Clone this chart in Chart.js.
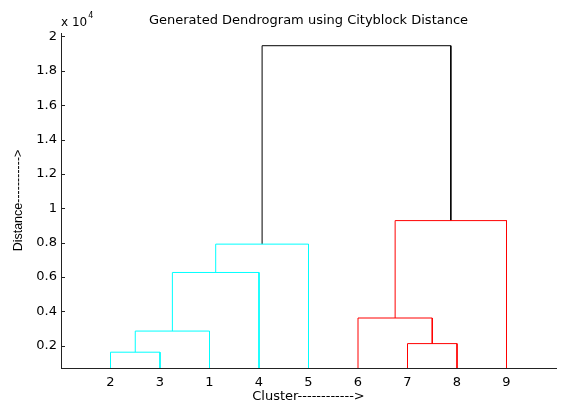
<!DOCTYPE html>
<html>
<head>
<meta charset="utf-8">
<title>Dendrogram</title>
<script src="https://cdn.jsdelivr.net/npm/chart.js@4.4.1/dist/chart.umd.min.js"></script>
<style>
  html, body { margin: 0; padding: 0; background: #fff; }
  #wrap { width: 565px; height: 403px; position: relative; }
</style>
</head>
<body>
<div id="wrap"><canvas id="dendro"></canvas></div>
<script>
// linkage rows: [left node, right node, distance (x 10^4)]
// nodes 1..9 are the observations, 10+ are the clusters made by each row
var linkLeft   = [2, 7, 10, 6, 12, 14, 13, 15];
var linkRight  = [3, 8, 1, 11, 4, 5, 9, 16];
var linkHeight = [0.162, 0.212, 0.285, 0.361, 0.626, 0.791, 0.928, 1.946];

// leaf order along the x axis
var leafOrder = [2, 3, 1, 4, 5, 6, 7, 8, 9];

var yTicks = [0.2, 0.4, 0.6, 0.8, 1, 1.2, 1.4, 1.6, 1.8, 2];
var xTicks = [1, 2, 3, 4, 5, 6, 7, 8, 9];

var chartTitle = 'Generated Dendrogram using Cityblock Distance';

var clusterColors = ['#00ffff', '#ff0000'];
var FONT = "'DejaVu Sans', Verdana, sans-serif";
var FONT_V = "'Liberation Sans', Arial, Helvetica, sans-serif";

var nLeaf = leafOrder.length;

// x position and height of every node
function nodePos(){
    var pos = {};
    var h = {};
    leafOrder.forEach(function(leaf, i){
        pos[leaf] = i + 1;
        h[leaf] = 0;
    });
    for (var i = 0; i < linkLeft.length; i++) {
        var id = nLeaf + 1 + i;
        pos[id] = (pos[linkLeft[i]] + pos[linkRight[i]]) / 2;
        h[id] = linkHeight[i];
    }
    return {pos: pos, h: h};
}

// colour links below 0.7*max by cluster (left to right), the rest black
function linkColours(){
    var thr = 0.7 * Math.max.apply(null, linkHeight);
    var col = [];
    var next = 0;

    function walk(id, c){
        if (id <= nLeaf) return;
        var i = id - nLeaf - 1;
        if (!c && linkHeight[i] < thr) {
            c = clusterColors[next % clusterColors.length];
            next++;
        }
        col[i] = c || '#000000';
        walk(linkLeft[i], c);
        walk(linkRight[i], c);
    }
    walk(nLeaf + linkLeft.length, null);
    return col;
}

function buildDatasets(){
    var np = nodePos();
    var cols = linkColours();
    var sets = [];
    for (var i = 0; i < linkLeft.length; i++) {
        var a = linkLeft[i], b = linkRight[i];
        sets.push({
            data: [
                {x: np.pos[a], y: np.h[a]},
                {x: np.pos[a], y: linkHeight[i]},
                {x: np.pos[b], y: linkHeight[i]},
                {x: np.pos[b], y: np.h[b]}
            ],
            showLine: true,
            borderColor: cols[i],
            borderWidth: 1,
            pointRadius: 0,
            fill: false,
            tension: 0
        });
    }
    return sets;
}

// title over the axes, small inward ticks and the exponent label, MATLAB style
var axisExtras = {
    id: 'axisExtras',
    afterDraw: function(chart){
        var ctx = chart.ctx;
        var ys = chart.scales.y;
        var area = chart.chartArea;
        ctx.save();
        ctx.strokeStyle = '#222';
        ctx.lineWidth = 1;
        ctx.beginPath();
        yTicks.forEach(function(v){
            var py = Math.round(ys.getPixelForValue(v)) + 0.5;
            ctx.moveTo(area.left, py);
            ctx.lineTo(area.left + 4, py);
        });
        ctx.stroke();

        ctx.fillStyle = '#000';
        ctx.textBaseline = 'alphabetic';
        ctx.textAlign = 'center';
        ctx.font = '13px ' + FONT;
        ctx.fillText(chartTitle, (area.left + area.right) / 2, 23.5);

        ctx.textAlign = 'left';
        ctx.font = '12px ' + FONT;
        ctx.fillText('x 10', area.left, 26);
        var w = ctx.measureText('x 10').width;
        ctx.font = '8px ' + FONT;
        ctx.fillText('4', area.left + w + 1, 18);
        ctx.restore();
    }
};

function init(){
    var ctx = document.getElementById('dendro').getContext('2d');
    var chart = new Chart(ctx, {
        type: 'scatter',
        data: { datasets: buildDatasets() },
        options: {
            responsive: true,
            maintainAspectRatio: false,
            animation: false,
            layout: { padding: { left: 0, right: 9, top: 33, bottom: 0 } },
            plugins: {
                legend: { display: false },
                tooltip: { enabled: false },
                title: { display: false }
            },
            scales: {
                x: {
                    type: 'linear',
                    min: 0,
                    max: 10,
                    afterFit: function(scale){ scale.height = 35; },
                    afterBuildTicks: function(scale){
                        scale.ticks = xTicks.map(function(v){ return {value: v}; });
                    },
                    grid: { display: false, drawTicks: false },
                    border: { display: true, color: '#222', width: 1 },
                    ticks: {
                        color: '#000',
                        padding: 7,
                        autoSkip: false,
                        maxRotation: 0,
                        font: { family: FONT, size: 13 },
                        callback: function(v){ return String(leafOrder[v - 1]); }
                    },
                    title: {
                        display: true,
                        text: 'Cluster------------>',
                        color: '#000',
                        font: { family: FONT, size: 13, lineHeight: 1.0 },
                        padding: { top: 0, bottom: 0 }
                    }
                },
                y: {
                    type: 'linear',
                    min: 0.07,
                    max: 2.02,
                    afterFit: function(scale){ scale.width = 61; },
                    afterBuildTicks: function(scale){
                        scale.ticks = yTicks.map(function(v){ return {value: v}; });
                    },
                    grid: { display: false, drawTicks: false },
                    border: { display: true, color: '#222', width: 1 },
                    ticks: {
                        color: '#000',
                        padding: 4,
                        font: { family: FONT, size: 13 },
                        callback: function(v){ return String(+v.toFixed(1)); }
                    },
                    title: {
                        display: true,
                        text: 'Distance----------->',
                        color: '#000',
                        font: { family: FONT_V, size: 12.5, lineHeight: 1.2 },
                        padding: { top: 11, bottom: 0 }
                    }
                }
            }
        },
        plugins: [axisExtras]
    });
}

init();
</script>
</body>
</html>
